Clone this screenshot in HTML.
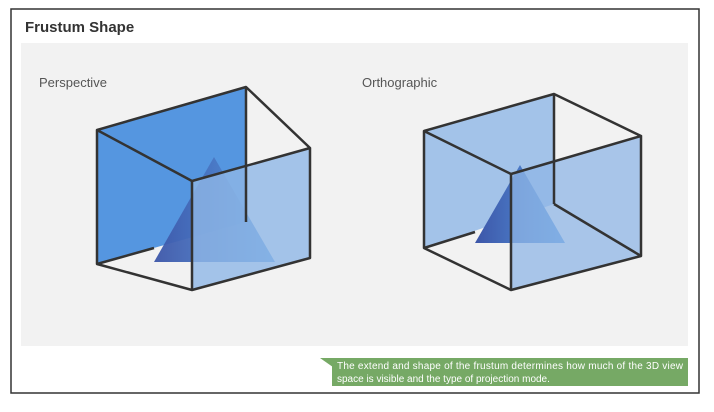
<!DOCTYPE html>
<html><head><meta charset="utf-8"><style>
body{margin:0;background:#fff;width:714px;height:407px;overflow:hidden;font-family:"Liberation Sans",sans-serif}
</style></head><body>
<svg width="714" height="407">
<defs>
<linearGradient id="tg" x1="0" x2="1" y1="0" y2="0"><stop offset="0" stop-color="#3d56a8"/><stop offset="1" stop-color="#5599e0"/></linearGradient>
</defs>
<rect x="11" y="9" width="688" height="384" fill="#fff" stroke="#333" stroke-width="1.5"/>
<text x="25" y="32" font-size="15" font-weight="bold" fill="#333">Frustum Shape</text>
<rect x="21" y="43" width="667" height="303" fill="#f2f2f2"/>
<text x="39" y="87" font-size="13" fill="#555">Perspective</text>
<text x="362" y="87" font-size="13" fill="#555">Orthographic</text>
<g stroke="#333" stroke-width="2.5" stroke-linejoin="round">
<polygon points="97,130 246,87 246,222 97,264" fill="#5596e0" stroke="none"/>
<polygon points="154,262 214,157 275,262" fill="url(#tg)" stroke="none" opacity="0.95"/>
<polygon points="192,181 310,148 310,258 192,290" fill="#8fb6e6" fill-opacity="0.8" stroke="none"/>
<polyline fill="none" points="97,130 246,87 310,148 192,181 97,130 97,264 192,290 310,258 310,148"/>
<line x1="246" y1="87" x2="246" y2="222"/><line x1="192" y1="181" x2="192" y2="290"/>
<line x1="97" y1="264" x2="154" y2="248"/>
</g>
<g stroke="#333" stroke-width="2.5" stroke-linejoin="round">
<polygon points="424,131 554,94 554,204 424,248" fill="#a3c3e9" stroke="none"/>
<polygon points="475,243 520,165 565,243" fill="url(#tg)" stroke="none"/>
<polygon points="511,174 641,136 641,256 511,290" fill="#8fb6e6" fill-opacity="0.75" stroke="none"/>
<polyline fill="none" points="424,131 554,94 641,136 511,174 424,131 424,248 511,290 641,256 641,136"/>
<line x1="554" y1="94" x2="554" y2="204"/><line x1="554" y1="204" x2="641" y2="256"/><line x1="511" y1="174" x2="511" y2="290"/>
<line x1="424" y1="248" x2="475" y2="232"/>
</g>
<g>
<polygon points="320,358 340,358 340,372" fill="#76a965"/>
<rect x="332" y="358" width="356" height="28" fill="#76a965"/>
<text x="337" y="369" font-size="10" fill="#fff" textLength="346">The extend and shape of the frustum determines how much of the 3D view</text>
<text x="337" y="382" font-size="10" fill="#fff">space is visible and the type of projection mode.</text>
</g>
</svg>
</body></html>
